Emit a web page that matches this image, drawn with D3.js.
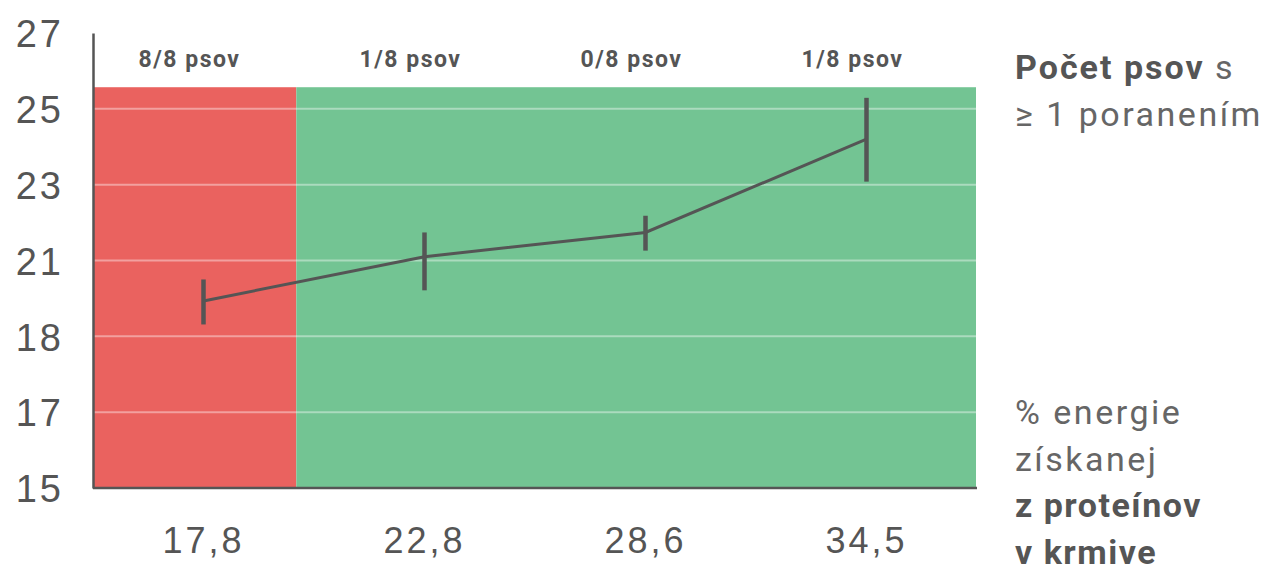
<!DOCTYPE html>
<html>
<head>
<meta charset="utf-8">
<script src="https://cdn.jsdelivr.net/npm/d3@7"></script>
<style>
  html, body { margin: 0; padding: 0; background: #fff; }
  svg { display: block; font-family: Roboto, "DejaVu Sans", sans-serif; }
</style>
</head>
<body>
<svg id="chart" width="1274" height="570"></svg>
<script>
// ---- data ----
const categories = ["17,8", "22,8", "28,6", "34,5"];
const proteinValues = [17.8, 22.8, 28.6, 34.5];
const meanValues = [19.4, 21.1, 21.74, 24.2];
const errLow = [18.47, 19.82, 21.26, 23.08];
const errHigh = [20.25, 21.74, 22.18, 25.29];
const injuryLabels = ["8/8 psov", "1/8 psov", "0/8 psov", "1/8 psov"];
const yTickLabels = [15, 17, 18, 21, 23, 25, 27];
const redZoneEnd = 19.9;     // protein % where the red zone ends
const zoneTop = 25.57;       // top of coloured background (y units)

(function () {
const svg = d3.select("#chart");
const mLeft = 93, mRight = 977, mBottom = 488, mTop = 33;

const xBand = d3.scaleBand().domain(categories).range([mLeft, mRight]).paddingInner(0).paddingOuter(0);
const xCenter = c => xBand(c) + xBand.bandwidth() / 2;
const xVal = d3.scaleLinear().domain(proteinValues).range(categories.map(xCenter));

const step = (mBottom - mTop) / (yTickLabels.length - 1);
const y = d3.scaleLinear().domain(yTickLabels).range(yTickLabels.map((d, i) => mBottom - i * step));

// background zones
svg.append("rect")
  .attr("x", mLeft).attr("y", y(zoneTop))
  .attr("width", xVal(redZoneEnd) - mLeft).attr("height", mBottom - y(zoneTop))
  .attr("fill", "#EA625F");
svg.append("rect")
  .attr("x", xVal(redZoneEnd)).attr("y", y(zoneTop))
  .attr("width", mRight - 1 - xVal(redZoneEnd)).attr("height", mBottom - y(zoneTop))
  .attr("fill", "#73C493");

// grid lines
svg.append("g").selectAll("line")
  .data(yTickLabels.filter(d => d > 15 && d < zoneTop))
  .join("line")
  .attr("x1", mLeft).attr("x2", mRight - 1)
  .attr("y1", d => y(d)).attr("y2", d => y(d))
  .attr("stroke", "rgba(255,255,255,0.4)").attr("stroke-width", 2);

// y axis
const yAxis = d3.axisLeft(y).tickValues(yTickLabels).tickSize(0).tickPadding(29);
const gy = svg.append("g").attr("transform", `translate(${mLeft},0)`).call(yAxis);
gy.select(".domain").attr("stroke", "#555").attr("stroke-width", 2.5);
gy.selectAll("text").attr("font-size", 38).attr("letter-spacing", 3)
  .attr("fill", "#555").attr("dy", "0.36em");

// x axis
const xAxis = d3.axisBottom(xBand).tickSize(0).tickPadding(39);
const gx = svg.append("g").attr("transform", `translate(0,${mBottom})`).call(xAxis);
gx.select(".domain").attr("stroke", "#555").attr("stroke-width", 2.5).attr("d", `M${mLeft},0H${mRight}`);
gx.selectAll("text").attr("font-size", 36).attr("letter-spacing", 3)
  .attr("fill", "#555").attr("dy", "0.71em");

// top labels
svg.append("g").selectAll("text")
  .data(injuryLabels)
  .join("text")
  .attr("x", (d, i) => xCenter(categories[i]) - 14)
  .attr("y", 67)
  .attr("text-anchor", "middle")
  .attr("font-size", 23).attr("font-weight", "bold").attr("letter-spacing", 1.5)
  .attr("fill", "#555")
  .text(d => d);

// line
const line = d3.line().x((d, i) => xCenter(categories[i])).y(d => y(d));
svg.append("path").datum(meanValues)
  .attr("d", line).attr("fill", "none")
  .attr("stroke", "#555").attr("stroke-width", 3);

// error bars
svg.append("g").selectAll("line")
  .data(categories)
  .join("line")
  .attr("x1", c => xCenter(c)).attr("x2", c => xCenter(c))
  .attr("y1", (c, i) => y(errLow[i])).attr("y2", (c, i) => y(errHigh[i]))
  .attr("stroke", "#555").attr("stroke-width", 4.5);

// right annotations
const t1 = svg.append("text").attr("x", 1015).attr("y", 79)
  .attr("font-size", 34).attr("letter-spacing", 2).attr("fill", "#666");
t1.append("tspan").attr("font-weight", "bold").attr("fill", "#555").text("Počet psov");
t1.append("tspan").text(" s");
svg.append("text").attr("x", 1015).attr("y", 126)
  .attr("font-size", 34).attr("letter-spacing", 2.5).attr("fill", "#666").text("≥ 1 poranením");

const lines2 = [["% energie", false], ["získanej", false], ["z proteínov", true], ["v krmive", true]];
svg.append("g").selectAll("text").data(lines2).join("text")
  .attr("x", 1015).attr("y", (d, i) => 424 + i * 46.5)
  .attr("font-size", 34).attr("letter-spacing", d => d[1] ? 1.5 : 2.5)
  .attr("font-weight", d => d[1] ? "bold" : "normal")
  .attr("fill", d => d[1] ? "#555" : "#666")
  .text(d => d[0]);
})();
</script>
</body>
</html>
